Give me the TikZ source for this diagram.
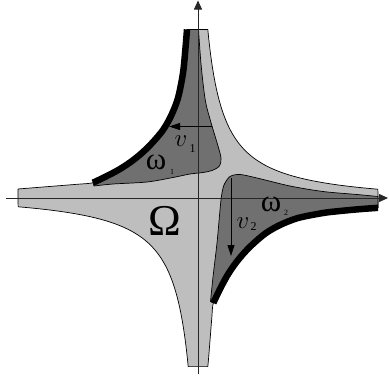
\documentclass[tikz,border=0pt]{standalone}
\usepackage{fontspec}
\setmainfont{Liberation Serif}
\usetikzlibrary{arrows.meta}
\definecolor{lightreg}{RGB}{190,190,190}
\definecolor{darkreg}{RGB}{112,112,112}
\tikzset{
  region/.style={draw=black, line width=0.7pt, line join=round},
  axisline/.style={draw=black!85, line width=0.8pt, -{Triangle[length=9pt,width=8pt]}},
  velarrow/.style={draw=black, line width=0.8pt, -{Triangle[length=11pt,width=7pt]}},
  bound/.style={draw=black, line width=6.5pt},
  lbl/.style={inner sep=0pt, text=black},
}
\begin{document}
\begin{tikzpicture}[x=1pt,y=1pt]
\useasboundingbox (-198,-178) rectangle (192,198);
% light region Omega
\path[region, fill=lightreg]
  (-11,168.6) -- (9.8,168.6)
  -- plot[domain=0:2.41, samples=60, variable=\t] ({16.8*exp(\t)-7},{175.6*exp(-\t)-7})
  -- plot[smooth] coordinates {(180,-9.8) (160,-11.3) (140,-13.2) (125,-15) (100,-20) (82,-27) (68,-35) (56,-45) (46,-55) (37,-66) (29,-78) (21.5,-92) (15.3,-105) (13.8,-120) (12.2,-140) (10.6,-160) (9.8,-168.6)}
  -- plot[domain=0:2.41, samples=60, variable=\t] ({-(16.8*exp(\t)-7)},{-(175.6*exp(-\t)-7)})
  -- plot[smooth] coordinates {(-180,9) (-160,10.6) (-140,12.2) (-120,13.8) (-105,15.3) (-92,21.5) (-78,29) (-66,37) (-55,46) (-45,56) (-35,68) (-27,82) (-20,100) (-15,125) (-12.5,150) (-11,168.6)}
  -- cycle;
% omega_1
\path[region, fill=darkreg]
  plot[smooth] coordinates {(-11,168.6) (-12.5,150) (-15,125) (-20,100) (-27,82) (-35,68) (-45,56) (-55,46) (-66,37) (-78,29) (-92,21.5) (-105,15.3)}
  -- plot[smooth] coordinates {(-104,12) (-85,14) (-51,16) (-25,20.5) (-8,24) (5,25.5) (14,27.5) (21.5,32) (23,40) (20,52) (14,72) (8,94) (5,115) (2.5,140) (0.5,168.6)}
  -- cycle;
% omega_2
\path[region, fill=darkreg]
  plot[smooth] coordinates {(180,-9.8) (160,-11.3) (140,-13.2) (125,-15) (100,-20) (82,-27) (68,-35) (56,-45) (46,-55) (37,-66) (29,-78) (21.5,-92) (15.3,-105)}
  -- plot[smooth] coordinates {(12.5,-103.6) (15,-79) (19,-45) (22,-12) (23.5,2) (26,13) (32,21.5) (42,23.5) (59,20) (92,12) (125,6.5) (159,3.5) (180,1.5)}
  -- cycle;
% axes
\coordinate (xl) at (-192,0);
\coordinate (xr) at (190,0);
\coordinate (yb) at (0,-176);
\coordinate (yt) at (0,197.5);
\draw[axisline] (xl) -- (xr);
\draw[axisline] (yb) -- (yt);
% black boundary pieces
\draw[bound] plot[smooth] coordinates {(-11,168.6) (-12.5,150) (-15,125) (-20,100) (-27,82) (-35,68) (-45,56) (-55,46) (-66,37) (-78,29) (-92,21.5) (-105,15.3)};
\draw[bound] plot[smooth] coordinates {(180,-9.8) (160,-11.3) (140,-13.2) (125,-15) (100,-20) (82,-27) (68,-35) (56,-45) (46,-55) (37,-66) (29,-78) (21.5,-92) (15.3,-105)};
% velocity arrows
\coordinate (v1s) at (14,71.5);
\coordinate (v1e) at (-29,71.5);
\draw[velarrow] (v1s) -- (v1e);
\coordinate (v2s) at (33,20);
\coordinate (v2e) at (33,-58);
\draw[velarrow] (v2s) -- (v2e);
% labels
\node[lbl] (v1) at (-17,57) {\fontsize{27}{27}\selectfont$v$};
\node[lbl] (v1sub) at (-5.5,49) {\fontsize{12}{12}\selectfont 1};
\node[lbl] (w1) at (-42,35.5) {\fontsize{31}{31}\selectfont ω};
\node[lbl] (w1sub) at (-26,26) {\fontsize{8}{8}\selectfont 1};
\node[lbl] (v2) at (45,-25) {\fontsize{27}{27}\selectfont$v$};
\node[lbl] (v2sub) at (55.5,-29) {\fontsize{12}{12}\selectfont 2};
\node[lbl] (w2) at (73,-6) {\fontsize{31}{31}\selectfont ω};
\node[lbl] (w2sub) at (88,-15) {\fontsize{8}{8}\selectfont 2};
\node[lbl] (Om) at (-33,-23) {\fontsize{44}{44}\selectfont Ω};
\end{tikzpicture}
\end{document}
